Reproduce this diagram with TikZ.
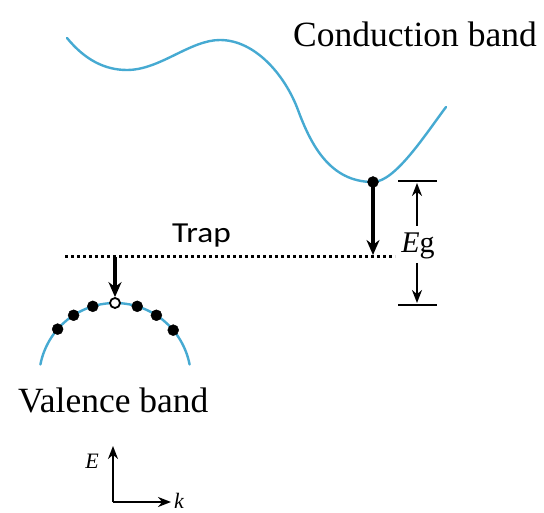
\documentclass[tikz,border=0pt]{standalone}
\usepackage{fontspec}
\setmainfont{Liberation Serif}
\newfontfamily\calib[FakeStretch=1.15]{Carlito}
\usetikzlibrary{arrows.meta}
\definecolor{bandblue}{RGB}{70,170,210}
\tikzset{
  band/.style={draw=bandblue, line width=2.4pt, line cap=round},
  fulldot/.style={circle, fill=black, draw=black, inner sep=0pt, minimum size=11pt},
  holedot/.style={circle, fill=white, draw=black, line width=1.8pt, inner sep=0pt, minimum size=10pt},
  bigarrow/.style={line width=3.2pt, -{Stealth[length=15pt,width=13pt]}},
  dimarrow/.style={line width=2pt, -{Stealth[length=13pt,width=10pt]}},
  axarrow/.style={line width=2pt, -{Stealth[length=13pt,width=10pt]}},
  bar/.style={line width=2.4pt},
  trapline/.style={line width=3pt, dash pattern=on 3pt off 3pt},
  bigtext/.style={font=\fontsize{35.5}{40}\selectfont, inner sep=0pt},
}
\begin{document}
\begin{tikzpicture}[x=1pt,y=-1pt]
\useasboundingbox[fill=white] (0,0) rectangle (544,513);
% conduction band
\draw[band] (67,38) .. controls (85,60) and (105,70) .. (127,70)
  .. controls (160,70) and (190,40) .. (220,40)
  .. controls (255,40) and (285,75) .. (298,110)
  .. controls (311,145) and (330,182) .. (373,182)
  .. controls (395,182) and (425,135) .. (446,107);
\node[bigtext, anchor=base west] (cb) at (293,47) {Conduction band};
% valence band
\draw[band] plot[domain=11:169, samples=60] ({115+76*cos(\x)},{379-76*sin(\x)});
\node[bigtext, anchor=base west] (vb) at (18,412) {Valence band};
% trap level
\coordinate (tl) at (65,257);
\coordinate (tr) at (395,257);
\draw[trapline] (tl) -- (tr);
\node[font=\calib\fontsize{29}{34}\selectfont, inner sep=0pt, anchor=base west] (trap) at (172,243) {Trap};
% electron and transition
\node[fulldot] (e1) at (373,182) {};
\coordinate (t1) at (373,255);
\draw[bigarrow] (e1.center) -- (t1);
% hole and transition
\node[holedot] (h) at (115,303) {};
\coordinate (t2) at (115,257);
\draw[bigarrow] (t2) -- (h.north);
% valence electrons
\foreach \a/\n in {73/r1,57/r2,40/r3,107/l1,123/l2,139/l3}{
  \node[fulldot] (\n) at ({115+76*cos(\a)},{379-76*sin(\a)}) {};
}
% Eg dimension
\coordinate (b1l) at (398,181);
\coordinate (b1r) at (437,181);
\coordinate (b2l) at (398,305);
\coordinate (b2r) at (437,305);
\draw[bar] (b1l) -- (b1r);
\draw[bar] (b2l) -- (b2r);
\node[font=\fontsize{30}{34}\selectfont, inner sep=0pt, anchor=base] (eg) at (418,253) {\textit{E}g};
\coordinate (ua) at (417,226);
\coordinate (ut) at (417,183);
\coordinate (da) at (417,263);
\coordinate (dt) at (417,303);
\draw[dimarrow] (ua) -- (ut);
\draw[dimarrow] (da) -- (dt);
% axes
\coordinate (o) at (113,502);
\coordinate (ey) at (113,446);
\coordinate (kx) at (171,502);
\draw[axarrow] (o) -- (ey);
\draw[axarrow] (o) -- (kx);
\node[font=\fontsize{22}{26}\selectfont\itshape, inner sep=0pt, anchor=base east] (el) at (99,468) {E};
\node[font=\fontsize{22}{26}\selectfont\itshape, inner sep=0pt, anchor=base west] (kl) at (174,508) {k};
\end{tikzpicture}
\end{document}
